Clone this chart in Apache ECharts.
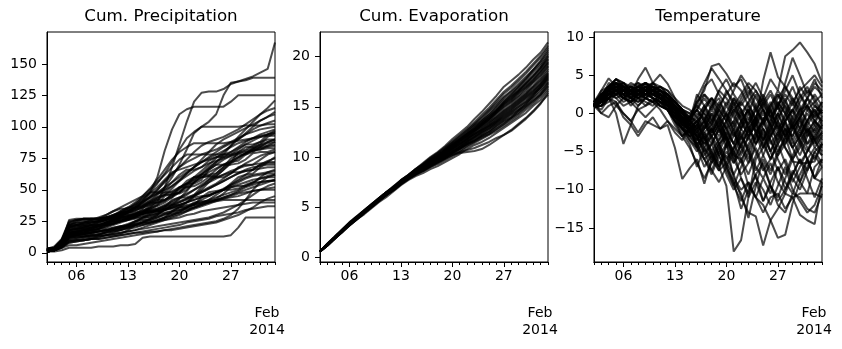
<!DOCTYPE html>
<html><head><meta charset="utf-8">
<script src="https://cdn.jsdelivr.net/npm/echarts@6/dist/echarts.min.js"></script>
<style>html,body{margin:0;padding:0;background:#fff}#c{width:842px;height:349px}</style>
</head><body><div id="c"></div>
<script>
const dates = ['2014-02-02','2014-02-03','2014-02-04','2014-02-05','2014-02-06','2014-02-07','2014-02-08','2014-02-09','2014-02-10','2014-02-11','2014-02-12','2014-02-13','2014-02-14','2014-02-15','2014-02-16','2014-02-17','2014-02-18','2014-02-19','2014-02-20','2014-02-21','2014-02-22','2014-02-23','2014-02-24','2014-02-25','2014-02-26','2014-02-27','2014-02-28','2014-03-01','2014-03-02','2014-03-03','2014-03-04','2014-03-05'];
const majorDates = ['2014-02-06','2014-02-13','2014-02-20','2014-02-27'];
const majorLabels = ['06','13','20','27'];
const offsetLines = ['Feb','2014'];
const titles = ['Cum. Precipitation','Cum. Evaporation','Temperature'];
const precipTicks = [0,25,50,75,100,125,150];
const evapTicks = [0,5,10,15,20];
const tempTicks = [-15,-10,-5,0,5,10];

const precip = [
[2,3,9,16,17,18,19,21,23,25,27,29,31,33,36,40,52,68,86,104,120,127,128,128,130,134,136,138,140,143,146,167],
[1,2,7,14,15,16,18,20,23,26,29,32,36,41,48,60,81,98,110,114,116,116,116,116,116,120,125,125,125,125,125,125],
[3,4,8,15,16,17,18,19,21,23,25,28,31,35,40,46,52,60,70,82,95,100,104,110,125,135,136,137,139,139,139,139],
[2,3,7,14,15,16,17,19,21,23,25,27,29,31,34,37,40,44,48,53,58,63,68,72,78,85,92,98,104,110,115,121],
[1,2,8,20,21,22,23,25,27,29,31,33,36,40,45,50,56,62,68,74,80,85,88,90,92,95,98,102,106,110,113,115],
[2,4,10,24,26,27,27,27,28,30,32,34,36,38,41,44,48,53,58,63,68,74,80,86,90,93,96,99,102,105,108,110],
[1,3,9,22,25,27,27,27,27,28,30,33,36,40,44,48,52,56,60,64,68,72,76,80,84,87,90,94,98,101,103,105],
[3,4,9,18,19,20,22,24,26,28,31,35,39,43,48,55,63,72,82,91,96,100,100,100,100,100,100,101,101,101,102,102],
[1,2,6,12,13,13,14,15,16,17,18,20,22,24,27,30,34,38,43,49,56,62,67,72,76,80,84,88,91,94,96,98],
[2,3,8,16,17,18,19,21,24,27,30,32,34,36,39,42,46,51,57,63,68,72,75,78,81,84,87,89,91,93,94,95],
[1,3,10,22,23,24,25,26,28,30,33,36,40,45,51,58,66,74,80,84,87,87,87,87,87,88,89,90,91,92,93,93],
[2,3,7,14,14,15,16,17,18,19,20,21,23,25,27,29,31,33,36,40,45,50,56,61,66,71,75,79,83,86,88,90],
[1,2,5,10,11,12,13,14,16,18,20,22,25,28,31,34,37,40,43,46,50,54,58,63,68,72,76,79,82,85,87,88],
[3,4,9,19,20,21,22,24,26,28,30,32,34,36,38,40,42,45,48,52,56,60,64,67,70,73,76,79,81,83,84,85],
[2,3,8,26,27,27,27,27,28,29,31,33,35,37,40,43,46,49,52,55,58,62,66,70,74,77,79,80,81,82,83,83],
[1,2,6,13,14,15,16,17,18,19,21,23,25,27,29,31,34,37,40,43,46,49,52,55,59,63,67,71,74,77,79,80],
[2,4,9,20,22,24,26,28,30,33,36,39,42,45,50,56,62,68,74,78,78,78,78,78,78,78,80,82,85,88,90,90],
[1,2,5,9,10,11,12,13,14,15,16,17,18,20,22,24,26,28,30,33,36,39,42,46,50,54,58,62,66,70,73,75],
[2,3,8,17,18,19,20,21,22,23,25,27,29,31,33,35,38,41,44,47,50,53,56,59,62,65,67,69,70,71,72,72],
[1,2,7,15,16,17,18,19,20,22,24,26,28,30,32,34,36,38,40,42,45,48,51,54,57,60,63,66,68,69,70,70],
[3,4,10,23,24,25,26,27,28,29,30,31,32,33,34,35,37,39,41,43,45,48,51,54,57,60,63,65,66,67,68,68],
[1,2,6,11,12,13,14,15,16,17,18,19,20,22,24,26,28,30,33,36,39,42,45,48,51,54,57,60,62,63,64,65],
[2,3,8,18,19,20,21,22,23,24,25,26,27,28,30,32,34,36,38,40,42,44,46,48,50,53,56,59,61,62,63,63],
[1,2,5,8,9,10,11,12,14,16,18,20,22,24,26,28,30,32,34,36,38,40,42,44,46,48,50,53,56,59,61,62],
[2,4,9,21,22,23,24,25,26,27,28,29,30,31,32,33,34,36,38,40,42,44,46,48,50,52,54,56,58,59,60,60],
[1,3,7,14,15,16,17,18,19,20,21,22,23,24,25,26,28,30,32,34,36,38,40,42,44,46,48,50,52,54,56,58],
[2,3,9,19,20,21,22,23,24,25,26,27,28,29,30,31,32,33,34,35,36,38,40,42,44,46,49,52,54,56,57,57],
[1,2,6,12,12,13,13,14,14,15,16,17,18,19,20,21,22,23,24,25,26,27,28,30,32,35,38,42,46,50,53,55],
[3,5,11,25,26,27,27,27,28,28,29,30,31,32,33,34,35,36,37,38,39,40,41,42,43,44,45,47,49,50,51,52],
[2,3,7,13,14,15,16,17,18,19,20,21,22,23,24,25,27,29,31,33,35,37,39,41,43,45,47,48,49,50,50,50],
[1,2,4,6,6,7,8,9,10,11,12,13,14,15,16,17,18,19,20,21,22,23,24,25,27,30,35,42,50,56,60,62],
[1,1,2,4,4,4,4,5,5,5,6,6,7,12,13,13,13,13,13,13,13,13,13,13,13,14,20,28,28,28,28,28],
[2,2,5,10,10,10,11,11,12,13,14,15,16,17,18,19,20,21,22,24,25,26,27,29,30,31,32,34,35,36,37,37],
[1,2,6,13,14,15,16,17,17,18,19,20,21,22,23,25,26,27,28,30,31,33,34,35,36,37,38,39,40,40,40,40],
[3,4,8,18,19,20,21,22,24,26,28,29,30,31,32,33,34,35,36,37,38,39,40,41,42,42,42,42,42,42,42,42],
[1,2,4,8,9,10,11,11,12,13,14,15,16,16,17,17,18,18,19,20,21,22,23,24,26,28,30,33,36,40,43,45],
[2,3,8,16,17,18,20,22,24,26,29,32,35,39,44,50,57,63,68,72,75,78,80,82,85,88,91,94,96,98,99,100],
[1,2,7,15,16,17,19,21,23,26,29,33,37,42,47,52,58,64,66,68,70,72,74,76,78,80,83,86,89,92,94,96],
[3,4,10,21,22,23,24,25,27,29,32,35,38,41,44,47,50,53,57,61,65,68,71,73,75,77,79,81,83,84,85,86],
[2,3,8,17,18,19,20,21,22,24,26,28,30,32,35,38,42,46,50,55,60,65,70,75,80,85,90,95,100,105,108,112],
[2,3,8,18,19,19,20,22,22,23,28,30,30,31,36,42,42,44,52,55,55,58,66,70,70,72,80,84,84,86,92,95],
[1,2,6,14,15,15,16,19,24,25,25,26,30,34,35,38,45,47,47,50,56,60,61,61,66,72,73,78,82,82,85,88],
[3,4,9,22,24,24,25,25,26,30,32,32,33,37,40,40,41,47,52,52,53,56,60,60,62,64,64,65,66,70,71,71],
[1,2,5,12,13,13,14,14,17,20,21,21,24,28,28,30,36,42,44,44,46,52,58,60,60,63,68,70,70,74,78,80],
[2,3,7,16,17,18,18,19,22,26,27,27,28,32,38,44,46,46,48,54,60,62,62,63,68,75,78,78,80,84,88,90],
[1,3,8,20,21,21,22,22,23,27,28,28,29,32,33,33,35,38,38,40,44,45,45,48,50,50,51,54,56,56,57,58],
[2,3,9,24,26,26,27,27,30,33,35,35,38,44,48,48,50,56,62,66,66,68,73,76,76,78,82,86,86,88,94,97],
[1,2,4,9,10,10,11,13,14,14,15,18,22,24,24,25,28,33,36,36,38,44,48,49,50,55,60,62,63,68,72,76],
[3,4,10,21,22,22,24,25,25,28,33,36,36,37,42,47,48,48,51,57,60,60,61,66,70,70,71,74,79,80,80,82],
[2,2,6,13,14,14,15,17,18,18,19,22,25,26,26,28,31,31,32,36,40,41,41,43,47,52,53,53,55,60,64,66]
];

const evap = [
[0.6,1.3,2.0,2.7,3.4,4.0,4.6,5.2,5.9,6.5,7.0,7.7,8.2,8.8,9.4,10.0,10.5,11.1,11.8,12.4,13.0,13.8,14.5,15.3,16.1,17.0,17.6,18.2,18.9,19.7,20.4,21.4],
[0.6,1.3,2.1,2.8,3.5,4.1,4.7,5.3,5.9,6.5,7.1,7.7,8.2,8.8,9.3,9.9,10.4,11.0,11.6,12.2,12.8,13.5,14.2,14.9,15.7,16.5,17.1,17.8,18.5,19.3,20.1,21.1],
[0.6,1.3,2.0,2.7,3.4,4.0,4.6,5.2,5.8,6.4,7.0,7.6,8.1,8.7,9.2,9.8,10.3,10.8,11.4,12.0,12.6,13.3,14.0,14.7,15.5,16.3,16.9,17.6,18.3,19.1,19.9,20.9],
[0.6,1.4,2.1,2.8,3.5,4.1,4.7,5.3,5.9,6.5,7.1,7.7,8.2,8.8,9.3,9.9,10.4,10.9,11.5,12.1,12.7,13.3,13.9,14.6,15.3,16.0,16.6,17.3,18.0,18.7,19.5,20.5],
[0.6,1.3,2.0,2.7,3.4,4.0,4.6,5.2,5.8,6.4,7.0,7.6,8.1,8.7,9.1,9.7,10.2,10.7,11.3,11.8,12.4,13.1,13.7,14.4,15.1,15.9,16.5,17.1,17.8,18.6,19.3,20.3],
[0.6,1.2,1.9,2.6,3.3,3.9,4.5,5.1,5.7,6.3,6.9,7.5,8.0,8.6,9.0,9.6,10.1,10.6,11.2,11.7,12.3,12.9,13.6,14.2,15.0,15.7,16.3,16.9,17.6,18.4,19.1,20.1],
[0.6,1.3,2.0,2.7,3.4,4.0,4.7,5.3,5.9,6.5,7.0,7.6,8.1,8.7,9.2,9.7,10.2,10.8,11.4,11.9,12.5,13.1,13.6,14.2,14.8,15.5,16.1,16.7,17.4,18.1,18.9,19.8],
[0.6,1.3,2.0,2.7,3.3,3.9,4.5,5.1,5.7,6.3,6.9,7.5,8.0,8.6,9.0,9.6,10.0,10.6,11.1,11.7,12.2,12.8,13.4,14.0,14.7,15.4,16.0,16.6,17.3,18.0,18.8,19.7],
[0.6,1.3,2.0,2.7,3.4,4.0,4.6,5.2,5.8,6.4,7.0,7.6,8.1,8.7,9.1,9.7,10.1,10.7,11.2,11.8,12.3,12.9,13.4,14.0,14.6,15.3,15.8,16.5,17.1,17.8,18.6,19.5],
[0.6,1.2,1.9,2.6,3.3,3.9,4.5,5.1,5.7,6.3,6.9,7.4,8.0,8.5,9.0,9.5,9.9,10.5,11.0,11.6,12.1,12.7,13.3,13.8,14.5,15.2,15.7,16.4,17.0,17.7,18.5,19.4],
[0.6,1.3,2.0,2.7,3.4,4.0,4.6,5.2,5.8,6.4,6.9,7.5,8.0,8.5,8.9,9.5,9.9,10.4,10.9,11.5,12.0,12.6,13.2,13.7,14.4,15.1,15.6,16.3,16.9,17.6,18.4,19.3],
[0.6,1.3,2.0,2.7,3.4,4.0,4.6,5.2,5.8,6.4,7.0,7.6,8.1,8.6,9.1,9.6,10.1,10.6,11.1,11.7,12.2,12.7,13.2,13.8,14.4,15.0,15.5,16.1,16.8,17.5,18.2,19.1],
[0.6,1.2,1.9,2.6,3.3,3.9,4.5,5.1,5.7,6.3,6.8,7.4,8.0,8.5,8.9,9.5,9.9,10.4,10.9,11.5,12.0,12.5,13.1,13.6,14.3,14.9,15.4,16.0,16.6,17.4,18.1,19.0],
[0.6,1.3,2.0,2.7,3.4,4.0,4.6,5.2,5.8,6.4,6.9,7.5,8.0,8.5,8.9,9.4,9.8,10.3,10.8,11.3,11.8,12.3,12.9,13.4,14.1,14.7,15.2,15.8,16.4,17.1,17.9,18.8],
[0.6,1.3,2.0,2.7,3.4,4.0,4.6,5.2,5.8,6.4,6.9,7.5,8.0,8.5,9.0,9.5,9.9,10.5,11.0,11.6,12.1,12.6,13.0,13.5,14.0,14.6,15.1,15.7,16.3,17.0,17.7,18.6],
[0.6,1.3,2.0,2.7,3.4,4.0,4.6,5.2,5.8,6.4,6.9,7.5,8.0,8.5,8.9,9.4,9.8,10.3,10.8,11.3,11.8,12.3,12.8,13.3,13.9,14.5,15.0,15.6,16.2,16.9,17.6,18.4],
[0.6,1.2,1.9,2.6,3.3,3.9,4.5,5.1,5.7,6.3,6.9,7.5,8.0,8.5,8.9,9.4,9.8,10.2,10.7,11.2,11.7,12.2,12.7,13.2,13.8,14.4,14.9,15.5,16.1,16.7,17.4,18.3],
[0.6,1.3,2.0,2.6,3.3,3.9,4.5,5.1,5.7,6.3,6.8,7.4,7.9,8.4,8.8,9.3,9.7,10.1,10.6,11.1,11.6,12.1,12.6,13.1,13.7,14.3,14.8,15.4,16.0,16.6,17.3,18.2],
[0.6,1.3,2.0,2.7,3.4,4.0,4.6,5.2,5.8,6.4,6.9,7.5,8.0,8.5,8.9,9.4,9.9,10.4,10.9,11.4,11.9,12.3,12.7,13.1,13.6,14.2,14.7,15.3,15.9,16.5,17.2,18.1],
[0.6,1.2,1.9,2.6,3.3,3.9,4.5,5.1,5.7,6.2,6.8,7.4,7.9,8.4,8.8,9.2,9.6,10.1,10.5,11.0,11.5,12.0,12.5,13.0,13.5,14.1,14.6,15.2,15.8,16.4,17.1,18.0],
[0.6,1.3,2.0,2.7,3.4,4.0,4.6,5.2,5.8,6.4,6.9,7.5,8.0,8.5,8.9,9.3,9.7,10.2,10.6,11.1,11.6,12.0,12.5,12.9,13.5,14.0,14.5,15.0,15.6,16.3,16.9,17.8],
[0.6,1.3,1.9,2.6,3.3,3.9,4.5,5.1,5.7,6.3,6.8,7.4,7.9,8.4,8.7,9.2,9.6,10.0,10.5,10.9,11.4,11.9,12.3,12.8,13.4,13.9,14.4,15.0,15.5,16.2,16.9,17.7],
[0.6,1.2,1.9,2.6,3.2,3.8,4.4,5.0,5.6,6.2,6.7,7.3,7.8,8.3,8.7,9.2,9.6,10.0,10.5,11.0,11.5,11.9,12.4,12.8,13.3,13.8,14.3,14.8,15.4,16.0,16.7,17.5],
[0.6,1.3,2.0,2.6,3.3,3.9,4.5,5.1,5.7,6.3,6.8,7.4,7.9,8.3,8.7,9.1,9.5,9.9,10.4,10.8,11.3,11.7,12.2,12.6,13.2,13.7,14.2,14.7,15.2,15.9,16.5,17.4],
[0.6,1.3,2.0,2.7,3.4,4.0,4.6,5.2,5.8,6.4,6.9,7.5,8.0,8.4,8.7,9.2,9.5,9.9,10.4,10.8,11.2,11.6,12.1,12.5,13.1,13.6,14.0,14.6,15.1,15.7,16.3,17.3],
[0.6,1.2,1.9,2.5,3.2,3.8,4.4,5.0,5.6,6.2,6.7,7.3,7.8,8.3,8.6,9.1,9.5,9.9,10.4,10.8,11.3,11.7,12.1,12.5,13.0,13.5,13.9,14.4,15.0,15.6,16.2,17.1],
[0.6,1.3,1.9,2.6,3.3,3.9,4.5,5.1,5.7,6.3,6.8,7.4,7.9,8.3,8.6,9.0,9.4,9.8,10.2,10.6,11.1,11.5,11.9,12.3,12.8,13.3,13.8,14.3,14.9,15.5,16.2,17.0],
[0.6,1.2,1.9,2.6,3.2,3.8,4.4,5.0,5.6,6.2,6.7,7.3,7.8,8.2,8.6,9.0,9.3,9.7,10.1,10.5,11.0,11.4,11.8,12.2,12.6,13.1,13.6,14.1,14.7,15.3,16.0,16.8],
[0.6,1.2,1.9,2.5,3.2,3.8,4.3,4.9,5.5,6.0,6.6,7.2,7.7,8.1,8.4,8.8,9.1,9.5,9.9,10.3,10.8,11.2,11.5,11.9,12.4,12.9,13.4,13.9,14.4,15.1,15.7,16.6],
[0.6,1.3,2.0,2.6,3.3,3.9,4.5,5.1,5.7,6.2,6.8,7.3,7.9,8.3,8.7,9.1,9.5,9.9,10.2,10.4,10.5,10.6,10.8,11.2,11.7,12.2,12.7,13.3,13.9,14.6,15.4,16.2],
[0.6,1.2,1.9,2.6,3.3,3.9,4.5,5.1,5.7,6.3,6.8,7.4,7.9,8.4,8.8,9.2,9.6,10.0,10.3,10.5,10.7,10.9,11.2,11.5,11.9,12.2,12.6,13.2,13.8,14.5,15.3,16.4],
[0.6,1.3,2.0,2.7,3.4,4.0,4.6,5.2,5.8,6.4,6.9,7.5,8.0,8.5,9.0,9.4,9.8,10.3,10.8,11.3,11.8,12.5,13.2,13.8,14.6,15.5,16.2,17.0,17.8,18.7,19.6,20.7],
[0.6,1.3,2.0,2.7,3.3,3.9,4.5,5.1,5.7,6.3,6.8,7.4,8.0,8.4,8.8,9.2,9.6,10.0,10.5,10.9,11.3,11.6,12.0,12.3,12.8,13.3,13.9,14.6,15.3,16.1,17.0,17.9],
[0.6,1.3,2.0,2.7,3.4,4.0,4.6,5.3,5.9,6.5,7.0,7.6,8.2,8.7,9.2,9.7,10.1,10.6,11.2,11.7,12.3,12.8,13.4,14.0,14.6,15.3,15.9,16.6,17.3,18.1,18.9,20.0]
];

const temp = [
[1.2,2.0,3.0,2.5,1.5,2.0,3.0,2.5,2.0,1.0,0.5,-1.0,-2.0,-3.0,-4.0,-2.5,-5.0,-7.0,-9.5,-18.1,-16.6,-11.0,-6.0,-4.5,-2.0,-3.5,-1.0,0.5,-2.0,-4.0,-3.0,-1.5],
[1.0,1.5,3.5,4.0,3.0,2.5,3.5,3.0,2.5,2.0,1.5,0.5,-0.5,-1.5,-3.0,-5.0,-4.0,-6.5,-5.5,-8.0,-11.0,-13.0,-13.5,-17.3,-14.0,-12.5,-10.5,-8.0,-6.0,-7.5,-5.0,-4.0],
[0.8,1.0,2.0,3.0,2.5,1.0,2.0,1.5,1.0,2.0,0.5,-1.0,-3.0,-2.0,-4.5,-6.0,-5.0,-7.0,-4.0,-8.5,-10.0,-9.0,-11.0,-12.0,-14.0,-16.3,-15.9,-11.8,-9.0,-10.5,-7.0,-6.0],
[1.5,2.5,3.0,3.5,4.0,3.0,3.5,2.5,3.0,2.0,1.5,0.5,-1.0,-2.0,-1.5,-3.0,-2.0,-4.0,-3.0,-5.5,-6.0,-4.5,-7.0,-8.5,-6.5,-9.0,-10.5,-11.0,-13.3,-14.0,-14.5,-9.0],
[1.0,2.0,3.5,4.5,3.5,2.0,1.5,2.5,3.5,2.0,1.0,0.0,-2.0,-3.5,-5.0,-3.5,-6.0,-4.5,-7.0,-9.0,-10.5,-13.7,-9.5,-6.0,-8.0,-5.5,-3.0,-4.5,-6.5,-5.0,-3.5,-2.5],
[1.0,0.5,2.0,1.5,0.0,-1.0,-2.5,-1.0,-1.5,-2.0,-1.5,-4.5,-8.6,-7.2,-6.0,-9.2,-6.0,-7.5,-4.0,-2.0,-5.5,-3.0,-1.0,-4.5,-2.5,0.0,-2.0,-3.0,-1.0,-4.0,-2.0,-0.5],
[1.0,1.5,2.0,0.0,-4.0,-1.5,1.0,2.0,1.5,2.5,1.0,-0.5,-1.0,-2.0,-3.0,-1.5,0.5,-1.0,-3.0,-5.0,-2.0,1.0,-1.0,-3.5,-2.0,0.0,2.0,-1.0,-2.5,-1.0,0.5,-1.0],
[1.5,0.0,1.0,1.5,-0.5,-1.5,-3.0,-1.5,-0.5,-2.0,-1.0,-2.5,-3.5,-2.0,-4.5,-3.0,-5.5,-7.0,-5.0,-6.5,-4.0,-2.0,-3.5,-1.5,0.5,-2.0,-4.5,-6.3,-6.5,-6.5,-6.3,-4.0],
[1.0,2.0,3.0,2.5,3.5,2.0,3.0,4.0,3.5,3.0,2.0,1.0,0.0,-1.0,1.5,2.5,1.0,3.0,2.0,0.5,1.5,3.0,0.5,2.0,4.5,3.0,7.5,8.3,9.3,8.0,6.5,4.0],
[1.5,2.5,3.5,3.0,2.0,3.0,2.5,3.5,2.5,1.5,1.0,0.5,-1.0,-0.5,0.5,-1.0,1.0,2.0,-0.5,-2.0,0.0,1.5,-1.0,4.3,8.0,4.8,3.5,2.0,0.5,1.0,-0.5,1.5],
[1.0,1.5,2.5,3.0,2.5,2.0,1.5,2.0,3.0,2.5,1.5,0.0,-0.5,-2.0,-1.0,0.0,-1.5,-3.0,-1.0,0.5,-0.5,-2.5,-1.0,1.0,2.5,0.5,4.0,7.3,5.0,2.5,4.5,2.0],
[0.8,2.0,3.0,3.5,2.5,3.0,2.5,3.0,2.0,1.0,0.5,-0.5,-1.0,-0.5,1.5,3.0,6.2,6.5,5.2,3.5,4.5,2.0,0.5,-1.0,1.0,3.0,1.5,0.0,2.5,1.0,-0.5,0.5],
[1.2,1.5,2.0,3.5,3.0,2.5,3.5,4.0,3.0,2.5,1.5,0.5,-0.5,-1.5,2.0,4.0,5.9,4.5,3.0,1.0,2.5,4.0,3.0,1.5,-0.5,1.0,2.5,1.0,3.5,2.0,4.0,3.0],
[1.0,2.5,3.5,4.5,3.5,2.5,4.5,6.0,4.0,3.0,2.0,0.5,-1.0,-2.5,-1.5,0.5,2.0,0.0,-2.0,-4.0,-1.0,0.5,-2.5,-1.0,1.5,-1.0,-3.0,-1.5,0.0,2.0,1.0,0.0],
[1.5,2.0,3.0,4.0,3.0,3.5,3.0,3.5,4.0,5.1,3.9,2.0,0.0,-1.5,-2.5,-1.0,-3.0,-1.5,0.0,-2.5,-4.5,-2.0,-0.5,-3.0,-5.0,-2.5,-1.0,-3.5,-2.0,0.0,-1.5,-3.0],
[1.0,3.0,4.6,3.5,4.0,2.5,3.0,3.5,3.5,3.0,2.5,1.5,0.5,-1.0,-2.0,-3.5,-2.0,-4.0,-6.0,-4.5,-3.0,-5.0,-7.5,-5.5,-3.0,-1.5,-4.0,-2.0,-0.5,-2.5,-4.0,-2.5],
[1.0,1.0,2.5,3.0,2.0,1.5,2.5,3.5,2.5,2.0,1.0,-0.5,-2.0,-3.5,-4.5,-7.0,-5.5,-4.0,-6.5,-8.0,-6.0,-9.5,-11.0,-8.5,-10.5,-7.0,-9.0,-10.5,-8.0,-6.0,-8.5,-9.0],
[1.5,2.0,2.0,2.5,3.0,3.5,3.0,2.0,1.5,2.0,1.5,0.5,-0.5,-2.5,-4.0,-3.0,-5.5,-7.5,-6.5,-9.0,-12.5,-10.0,-8.0,-11.5,-9.5,-12.0,-13.0,-10.5,-11.0,-12.5,-13.0,-10.5],
[1.0,1.5,3.0,4.0,3.5,3.0,2.0,2.5,3.0,3.5,2.5,1.0,-0.5,-1.0,0.5,2.5,1.5,-0.5,-2.0,0.0,2.0,3.5,1.0,-1.5,0.5,2.5,1.0,-0.5,-2.0,0.5,1.5,2.5],
[1.2,2.5,2.5,3.0,2.5,3.5,4.0,3.0,3.5,2.5,2.0,1.0,-1.5,-2.0,-1.0,-3.5,-2.0,-0.5,-3.0,-5.0,-6.5,-4.0,-2.5,-5.5,-7.5,-5.0,-3.0,-6.0,-4.5,-2.5,-1.0,-2.0],
[0.8,1.5,3.5,3.0,3.5,3.0,3.5,3.0,2.5,3.0,2.5,1.5,0.5,-1.5,-3.0,-5.0,-7.5,-9.0,-7.0,-5.0,-8.5,-10.5,-8.0,-6.5,-9.5,-11.5,-10.0,-7.5,-9.0,-6.0,-4.5,-5.5],
[1.0,2.0,3.0,3.5,2.5,2.0,3.0,2.5,3.5,3.0,2.0,1.0,0.0,-1.0,2.5,1.0,-1.0,0.5,3.0,1.5,-1.0,-3.0,-1.5,0.5,-1.5,-4.0,-2.5,-0.5,1.5,3.0,2.0,0.0],
[1.5,1.5,2.5,2.0,1.0,1.5,2.0,1.0,2.0,1.0,0.5,-1.0,-2.5,-4.0,-7.0,-4.5,-6.5,-5.0,-3.0,-6.0,-8.0,-6.5,-4.0,-2.0,-5.0,-7.5,-6.0,-8.5,-10.0,-7.5,-5.5,-7.0],
[1.0,2.0,4.0,3.5,3.0,4.0,3.5,4.0,3.0,3.5,3.0,2.0,1.0,0.5,-0.5,-2.0,-1.0,1.5,0.0,-1.5,-3.5,-1.0,1.0,2.5,0.5,-2.0,-0.5,1.5,3.0,4.0,5.0,3.5],
[1.2,1.0,2.0,2.5,3.0,2.0,1.0,2.0,3.0,2.0,1.0,0.0,-1.5,-3.0,-2.0,-4.5,-6.0,-4.0,-2.5,-4.0,-6.0,-8.0,-5.5,-3.5,-6.0,-4.0,-6.5,-9.0,-7.0,-5.0,-3.0,-4.5],
[1.0,2.0,3.5,4.0,3.0,3.5,2.5,3.0,2.5,2.0,1.0,0.5,0.5,-1.5,0.0,-0.5,-2.5,-1.0,1.0,-0.5,-2.0,0.0,2.5,0.5,-1.5,1.0,3.0,5.0,2.5,0.5,-1.0,-2.0],
[1.5,3.0,3.5,3.0,2.0,3.0,3.5,4.0,3.5,2.5,1.5,1.0,-0.5,-2.0,-3.5,-2.0,0.0,-2.0,-4.5,-3.0,-1.0,0.5,-1.5,-3.5,-1.5,0.0,-2.5,-4.5,-3.0,-1.5,-3.5,-5.0],
[1.0,1.5,2.5,3.0,4.0,3.5,2.5,3.5,2.5,2.0,2.5,1.5,0.0,-2.0,-4.0,-6.0,-8.0,-5.5,-7.5,-9.5,-7.0,-5.0,-8.5,-10.0,-12.0,-9.5,-7.0,-10.0,-11.5,-13.0,-12.0,-9.5],
[0.8,1.0,1.5,2.5,2.0,1.5,2.5,2.0,1.5,1.0,0.5,-0.5,-1.0,-0.5,1.0,0.0,-1.5,1.0,2.5,4.0,3.0,1.0,-0.5,1.5,3.0,1.0,-1.0,0.5,2.0,3.5,1.5,-0.5],
[1.0,2.0,3.0,4.5,4.0,3.0,2.0,3.0,4.0,3.5,3.0,1.5,0.5,0.0,1.0,3.5,4.5,2.5,1.0,3.0,5.0,3.5,2.0,0.5,-1.0,1.5,0.0,-2.0,-0.5,-3.0,-1.5,1.0],
[1.2,2.0,2.5,3.5,3.0,2.5,3.0,2.5,2.0,1.5,0.5,-0.5,-2.0,-3.0,-2.5,-4.0,-3.0,-5.5,-4.0,-2.5,-4.5,-6.5,-4.5,-7.0,-9.5,-11.0,-8.5,-6.0,-9.0,-7.0,-5.0,-6.5],
[1.0,1.5,3.0,3.5,3.0,2.0,2.5,3.5,3.0,2.5,1.5,1.0,-0.5,-1.0,-2.0,0.5,-1.0,-2.5,-1.0,1.5,0.0,-1.5,0.5,-1.0,-3.0,-1.0,1.5,3.5,1.0,-1.5,0.0,1.5],
[1.5,2.5,3.0,2.0,2.5,3.0,3.5,3.0,2.5,3.0,2.0,0.5,-1.0,-1.5,-3.0,-5.5,-4.0,-2.0,-4.0,-6.5,-5.0,-3.0,-5.0,-7.5,-6.0,-4.0,-2.0,-4.5,-3.0,-1.0,0.5,-1.5],
[1.0,1.5,2.0,3.0,3.5,2.5,3.0,2.5,3.0,2.0,1.0,-0.5,-1.0,-2.5,-2.0,-1.0,-3.5,-5.5,-8.0,-10.0,-8.5,-11.0,-9.0,-11.5,-9.0,-7.0,-10.0,-8.0,-6.0,-8.5,-11.0,-8.5],
[1.0,2.0,3.0,4.0,3.5,2.5,2.0,3.0,2.5,3.0,2.0,1.5,0.5,-1.0,0.5,2.0,0.5,3.0,4.5,2.5,1.0,2.5,4.0,2.0,0.0,2.0,3.5,1.5,-0.5,2.0,3.5,2.5],
[1.5,2.0,3.5,3.0,2.0,2.5,3.0,2.0,1.5,2.5,1.5,0.0,-1.5,-1.0,-2.5,-4.0,-2.5,-1.0,-3.0,-1.5,0.5,-2.0,-4.0,-2.5,-5.0,-3.0,-1.0,-3.5,-5.5,-3.0,-2.0,-3.5],
[1.0,1.5,2.5,3.5,2.5,1.5,2.5,3.0,2.0,1.5,0.5,-1.0,-2.0,-1.5,-3.5,-2.0,0.0,-1.5,-3.5,-6.0,-4.0,-6.0,-3.0,-0.5,-2.5,-5.0,-3.5,-1.5,-4.0,-6.0,-8.5,-6.0],
[1.2,2.5,3.5,4.5,4.0,3.0,3.5,3.0,4.0,3.0,2.5,1.5,0.5,-0.5,-1.0,1.0,2.0,0.5,-1.0,2.0,0.5,-2.0,-0.5,1.5,-0.5,-2.5,0.0,2.0,0.0,-2.0,-3.5,-1.5],
[0.8,1.0,2.0,1.0,0.0,-1.0,0.5,1.0,1.5,0.5,-1.0,-2.0,-3.0,-4.5,-6.5,-8.5,-6.5,-4.5,-7.0,-9.5,-11.5,-9.0,-11.0,-13.0,-11.0,-10.5,-12.5,-11.0,-10.5,-10.5,-10.5,-11.0],
[1.0,0.0,-0.5,1.0,2.0,1.5,0.5,-0.5,0.5,1.5,0.5,-1.5,-3.0,-2.0,-4.0,-6.0,-7.5,-5.0,-6.5,-4.5,-2.5,-5.0,-3.0,-1.0,-3.5,-6.0,-8.0,-5.5,-3.5,-6.0,-8.5,-7.0],
[1.0,2.0,3.0,3.5,3.0,2.5,3.0,3.5,3.0,2.5,1.5,0.5,-1.0,-2.0,-1.0,-2.5,-1.5,0.5,-1.0,-3.0,-1.5,0.5,-2.0,-3.5,-1.0,1.0,-1.5,-3.0,-0.5,1.0,-1.0,-2.5],
[1.5,2.0,2.5,3.0,3.5,3.0,2.5,3.0,3.5,3.0,2.0,1.0,0.0,-1.0,-2.5,-1.0,1.0,-0.5,-2.0,-1.0,1.5,0.0,-2.5,-1.0,1.0,2.5,0.5,-1.5,0.5,2.0,0.0,-1.0],
[1.0,1.5,3.0,2.5,3.0,3.5,3.0,2.5,3.0,2.0,1.0,0.0,-1.5,-3.0,-4.5,-2.5,-4.0,-2.0,-3.5,-5.5,-3.0,-1.5,-4.0,-2.0,-3.5,-5.5,-4.0,-2.0,-3.5,-5.0,-2.5,-4.0],
[1.2,2.5,3.5,3.0,2.5,3.0,4.0,3.5,2.5,3.0,2.5,1.5,0.5,-0.5,0.5,-1.0,-2.5,-0.5,1.5,0.0,-2.0,-3.5,-1.0,0.5,-2.0,-0.5,1.0,-1.5,-3.0,-1.0,1.0,0.0],
[1.0,1.5,2.5,3.5,3.0,2.0,2.5,3.0,2.0,1.5,1.0,0.0,-1.0,-2.5,-3.5,-1.5,-3.0,-4.5,-2.5,-1.0,-3.0,-4.5,-2.5,-4.0,-6.0,-3.5,-2.0,-4.0,-2.5,-4.5,-6.0,-4.0],
[1.5,2.0,3.0,4.0,3.5,3.0,3.5,3.0,3.5,3.0,2.0,1.5,0.5,0.0,-1.5,0.5,2.0,1.0,-0.5,1.0,-0.5,1.5,3.0,1.0,-0.5,1.5,0.0,-2.0,-0.5,1.0,2.5,1.0],
[0.8,1.5,2.0,3.0,2.0,1.5,2.5,2.0,2.5,2.0,1.0,-0.5,-2.0,-2.5,-1.5,-3.0,-5.0,-3.5,-2.0,-4.0,-2.0,-0.5,-2.5,-4.5,-3.0,-1.0,-3.0,-1.5,-3.5,-2.0,-4.5,-3.0],
[1.0,2.5,3.5,4.0,3.0,3.5,3.0,4.0,3.0,3.5,2.5,1.0,0.0,-0.5,-2.0,-0.5,-2.0,-3.5,-1.5,0.5,-1.0,-3.0,-1.5,0.0,-1.5,-3.0,-1.0,0.5,-1.0,-2.5,-1.0,0.5],
[1.2,1.5,2.5,3.0,2.5,3.5,3.0,2.5,3.0,2.5,1.5,0.5,-0.5,-1.5,-0.5,1.0,-0.5,-2.0,0.0,2.0,0.5,-1.5,0.5,2.0,0.0,-1.5,-3.0,-1.0,0.5,-1.0,-2.5,-1.0],
[1.0,2.0,3.5,3.0,3.5,2.5,2.0,2.5,3.0,2.5,2.0,0.5,-1.5,-2.0,-3.0,-4.5,-3.0,-1.5,-3.5,-2.0,-4.0,-2.5,-0.5,-2.0,-4.0,-2.5,-4.5,-6.0,-4.0,-2.0,-3.5,-5.5]
];

const FONT = '"DejaVu Sans", sans-serif';
const gridBoxes = [
  {left:47, top:32, width:228, height:230},
  {left:320, top:32, width:228, height:230},
  {left:594, top:32, width:228, height:230}
];
const yRanges = [[-7.3,175.3],[-0.44,22.44],[-19.47,10.67]];
const yTicks = [precipTicks, evapTicks, tempTicks];
const panels = [precip, evap, temp];
const black = '#000';
const isMajor = (idx, val) => majorDates.indexOf(val) >= 0;

const grid = [], xAxis = [], yAxis = [], series = [], graphic = [];
gridBoxes.forEach((g, i) => {
  grid.push(Object.assign({show:true, borderColor:black, borderWidth:1, backgroundColor:'rgba(0,0,0,0)', containLabel:false, outerBoundsMode:'none'}, g));
  xAxis.push({gridIndex:i, type:'category', data:dates, boundaryGap:false, position:'bottom',
    axisLine:{show:true, onZero:false, lineStyle:{color:black, width:1}},
    axisTick:{show:true, interval:0, length:3, lineStyle:{color:black, width:1}},
    axisLabel:{show:false}, splitLine:{show:false}});
  xAxis.push({gridIndex:i, type:'category', data:dates, boundaryGap:false, position:'bottom',
    axisLine:{show:true, onZero:false, lineStyle:{color:black, width:1}},
    axisTick:{show:true, interval:isMajor, length:5, lineStyle:{color:black, width:1}},
    axisLabel:{show:true, interval:isMajor, margin:7, fontSize:14, fontFamily:FONT, color:black,
      formatter:(v) => majorLabels[majorDates.indexOf(v)] || ''},
    splitLine:{show:false}});
  yAxis.push({gridIndex:i, type:'value', min:yRanges[i][0], max:yRanges[i][1],
    splitLine:{show:false},
    axisLine:{show:true, onZero:false, lineStyle:{color:black, width:1}},
    axisTick:{show:true, length:5, customValues:yTicks[i], lineStyle:{color:black, width:1}},
    axisLabel:{show:true, customValues:yTicks[i], margin:10, fontSize:14, fontFamily:FONT, color:black,
      formatter:(v) => String(v).replace('-', '\u2212')}});
  panels[i].forEach((m) => {
    series.push({type:'line', xAxisIndex:2*i+1, yAxisIndex:i, data:m, symbol:'none', showSymbol:false,
      lineStyle:{color:'rgba(0,0,0,0.7)', width:2}, silent:true, animation:false, z:2});
  });
  const cx = g.left + g.width/2;
  graphic.push({type:'text', x:cx, y:17, style:{text:titles[i], font:'16.7px ' + FONT, fill:black,
    textAlign:'center', textVerticalAlign:'middle', align:'center', verticalAlign:'middle'}});
  const ox = g.left + g.width - 8;
  graphic.push({type:'text', x:ox, y:313, style:{text:offsetLines[0], font:'14px ' + FONT, fill:black,
    textAlign:'center', textVerticalAlign:'middle', align:'center', verticalAlign:'middle'}});
  graphic.push({type:'text', x:ox, y:330, style:{text:offsetLines[1], font:'14px ' + FONT, fill:black,
    textAlign:'center', textVerticalAlign:'middle', align:'center', verticalAlign:'middle'}});
});

const chart = echarts.init(document.getElementById('c'), null, {renderer:'canvas'});
chart.setOption({animation:false, backgroundColor:'#fff', grid, xAxis, yAxis, series, graphic});
</script>
</body></html>
